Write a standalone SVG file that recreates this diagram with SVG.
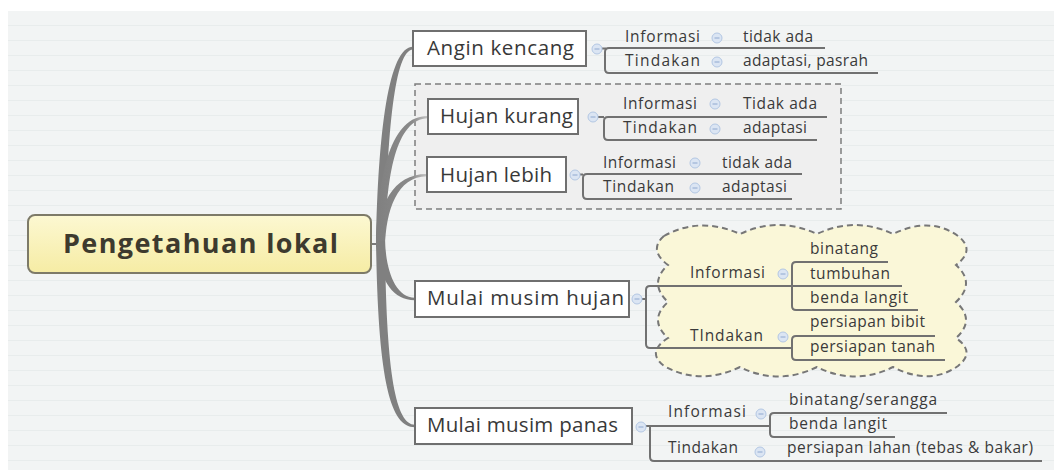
<svg xmlns="http://www.w3.org/2000/svg" width="1054" height="470" viewBox="0 0 1054 470">
<defs>
  <pattern id="bgp" x="0" y="11" width="40" height="15" patternUnits="userSpaceOnUse">
    <rect width="40" height="15" fill="#f2f4f4"/>
    <rect y="14" width="40" height="1" fill="#e8ecec"/>
  </pattern>
  <linearGradient id="cg" x1="0" y1="0" x2="0" y2="1">
    <stop offset="0" stop-color="#fcf8d2"/>
    <stop offset="1" stop-color="#f6eca4"/>
  </linearGradient>
  <linearGradient id="fade" x1="0" y1="0" x2="1" y2="0">
    <stop offset="0" stop-color="#808080"/>
    <stop offset="0.7" stop-color="#8a8a8a"/>
    <stop offset="1" stop-color="#c4c4c4"/>
  </linearGradient>
  <g id="icon">
    <circle r="5" fill="#dbe5f3" stroke="#b3c7e3" stroke-width="1"/>
    <line x1="-2.5" y1="0" x2="2.5" y2="0" stroke="#8fa8cf" stroke-width="1"/>
  </g>
</defs>
<style>
  .topic { fill: #ffffff; stroke: #6f6f6f; stroke-width: 2; }
  .tt { font-family: "Open Sans", "DejaVu Sans", sans-serif; font-size: 20.5px; fill: #383838; }
  .st { font-family: "Open Sans", "DejaVu Sans", sans-serif; font-size: 15.5px; fill: #3a3a3a; }
  .br { fill: none; stroke: #717171; stroke-width: 2; }
  .trunk { fill: #808080; }
</style>
<rect x="0" y="0" width="1054" height="470" fill="#ffffff"/>
<rect x="8" y="11" width="1046" height="459" fill="url(#bgp)"/>

<!-- boundary around Hujan topics -->
<rect id="boundary" x="415" y="84" width="426" height="125" fill="#efefef" stroke="#7e7e7e" stroke-width="1.5" stroke-dasharray="6 4"/>

<!-- cloud boundary -->
<path id="cloud" d="M 664 236
  Q 700 216 740 234 Q 778 216 817 234 Q 855 216 893 234 Q 930 216 958 236
  Q 976 250 956 265 Q 976 283 956 302 Q 976 320 956 338 Q 976 352 958 366
  Q 930 386 893 367 Q 855 386 817 367 Q 778 386 740 367 Q 700 386 664 366
  Q 646 352 668 338 Q 648 320 668 302 Q 648 283 668 265 Q 648 250 664 236 Z"
  fill="#faf7d8" stroke="#777777" stroke-width="2" stroke-dasharray="6 4"/>

<g id="connectors">
  <line x1="371" y1="244" x2="381" y2="244" stroke="#7a7a7a" stroke-width="2"/>
  <path class="trunk" d="M 376 247 C 378 130, 389 46.5, 413 46.8 L 413 49.4 C 395 49.6, 387 130, 385 247 Z"/>
  <path d="M 376 247 C 378 170, 392 115.5, 428 116 L 428 118.2 C 396 118.5, 386 175, 385 247 Z" fill="url(#fade)"/>
  <path d="M 376 247 C 378 205, 393 173.8, 427 174 L 427 176.2 C 397 176.5, 386 210, 385 247 Z" fill="url(#fade)"/>
  <path class="trunk" d="M 376 241 C 378 275, 390 300.4, 415 300.2 L 415 297.8 C 395 297.5, 386 270, 385 241 Z"/>
  <path class="trunk" d="M 376 241 C 378 380, 390 427.4, 415 427.2 L 415 424.8 C 395 424.5, 386 370, 385 241 Z"/>

  <!-- Angin kencang sub -->
  <line x1="602" y1="48.5" x2="606" y2="48.5" class="br"/>
  <path class="br" d="M 825 48 H 609 Q 605 48 605 52 V 69 Q 605 73 609 73 H 878"/>
  <!-- Hujan kurang sub -->
  <line x1="598" y1="117" x2="604" y2="117" class="br"/>
  <path class="br" d="M 827 117 H 608 Q 604 117 604 121 V 136 Q 604 140 608 140 H 817"/>
  <!-- Hujan lebih sub -->
  <line x1="580" y1="174.5" x2="583" y2="174.5" class="br"/>
  <path class="br" d="M 802 174 H 587 Q 583 174 583 178 V 195 Q 583 199 587 199 H 792"/>
  <!-- Mulai musim hujan sub -->
  <line x1="642" y1="299" x2="646" y2="299" class="br"/>
  <path class="br" d="M 792 286 H 650 Q 646 286 646 290 V 344 Q 646 348 650 348 H 792"/>
  <path class="br" d="M 888 262 H 796 Q 792 262 792 266 V 306 Q 792 310 796 310 H 918"/>
  <line class="br" x1="792" y1="286" x2="902" y2="286"/>
  <path class="br" d="M 935 336 H 796 Q 792 336 792 340 V 356 Q 792 360 796 360 H 945"/>
  <!-- Mulai musim panas sub -->
  <line x1="646" y1="426" x2="650" y2="426" class="br"/>
  <path class="br" d="M 770 426 H 650 V 457 Q 650 461 654 461 H 1042"/>
  <path class="br" d="M 947 413 H 774 Q 770 413 770 417 V 433 Q 770 437 774 437 H 895"/>
</g>

<g id="central">
  <rect x="28" y="215" width="343" height="58" rx="7" fill="url(#cg)" stroke="#7d7a68" stroke-width="2"/>
  <text x="63" y="253" textLength="275" font-family="'Open Sans', 'DejaVu Sans', sans-serif" font-size="27" font-weight="bold" fill="#3d3a2e">Pengetahuan lokal</text>
</g>

<g id="angin-kencang">
  <rect class="topic" x="413" y="31" width="173" height="35"/>
  <text class="tt" x="427" y="55" textLength="147">Angin kencang</text>
  <use href="#icon" x="597" y="49"/>
  <text class="st" x="625" y="42" textLength="75">Informasi</text>
  <use href="#icon" x="717" y="38"/>
  <text class="st" x="743" y="42" textLength="70">tidak ada</text>
  <text class="st" x="625" y="66" textLength="75">Tindakan</text>
  <use href="#icon" x="717" y="62"/>
  <text class="st" x="743" y="66" textLength="125">adaptasi, pasrah</text>
</g>

<g id="hujan-kurang">
  <rect class="topic" x="428" y="99" width="150" height="35"/>
  <text class="tt" x="440" y="123" textLength="133">Hujan kurang</text>
  <use href="#icon" x="593" y="117"/>
  <text class="st" x="623" y="109" textLength="74">Informasi</text>
  <use href="#icon" x="715" y="104"/>
  <text class="st" x="743" y="109" textLength="74">Tidak ada</text>
  <text class="st" x="623" y="133" textLength="74">Tindakan</text>
  <use href="#icon" x="715" y="129"/>
  <text class="st" x="743" y="133" textLength="64">adaptasi</text>
</g>

<g id="hujan-lebih">
  <rect class="topic" x="427" y="157" width="139" height="35"/>
  <text class="tt" x="440" y="182" textLength="112">Hujan lebih</text>
  <use href="#icon" x="575" y="175"/>
  <text class="st" x="603" y="168" textLength="73">Informasi</text>
  <use href="#icon" x="695" y="163"/>
  <text class="st" x="722" y="168" textLength="70">tidak ada</text>
  <text class="st" x="603" y="192" textLength="71">Tindakan</text>
  <use href="#icon" x="695" y="188"/>
  <text class="st" x="722" y="192" textLength="65">adaptasi</text>
</g>

<g id="mulai-musim-hujan">
  <rect class="topic" x="415" y="281" width="214" height="36"/>
  <text class="tt" x="427" y="305" textLength="197">Mulai musim hujan</text>
  <use href="#icon" x="637" y="299"/>
  <text class="st" x="690" y="278" textLength="75">Informasi</text>
  <use href="#icon" x="783" y="274"/>
  <text class="st" x="810" y="254" textLength="68">binatang</text>
  <text class="st" x="810" y="279" textLength="80">tumbuhan</text>
  <text class="st" x="810" y="303" textLength="98">benda langit</text>
  <text class="st" x="690" y="341" textLength="73">TIndakan</text>
  <use href="#icon" x="783" y="337"/>
  <text class="st" x="810" y="327" textLength="115">persiapan bibit</text>
  <text class="st" x="810" y="352" textLength="125">persiapan tanah</text>
</g>

<g id="mulai-musim-panas">
  <rect class="topic" x="415" y="408" width="217" height="36"/>
  <text class="tt" x="427" y="432" textLength="191">Mulai musim panas</text>
  <use href="#icon" x="641" y="427"/>
  <text class="st" x="668" y="417" textLength="78">Informasi</text>
  <use href="#icon" x="761" y="414"/>
  <text class="st" x="789" y="405" textLength="148">binatang/serangga</text>
  <text class="st" x="789" y="429" textLength="98">benda langit</text>
  <text class="st" x="668" y="453" textLength="70">Tindakan</text>
  <use href="#icon" x="760" y="452"/>
  <text class="st" x="787" y="453" textLength="246">persiapan lahan (tebas &amp; bakar)</text>
</g>
</svg>
